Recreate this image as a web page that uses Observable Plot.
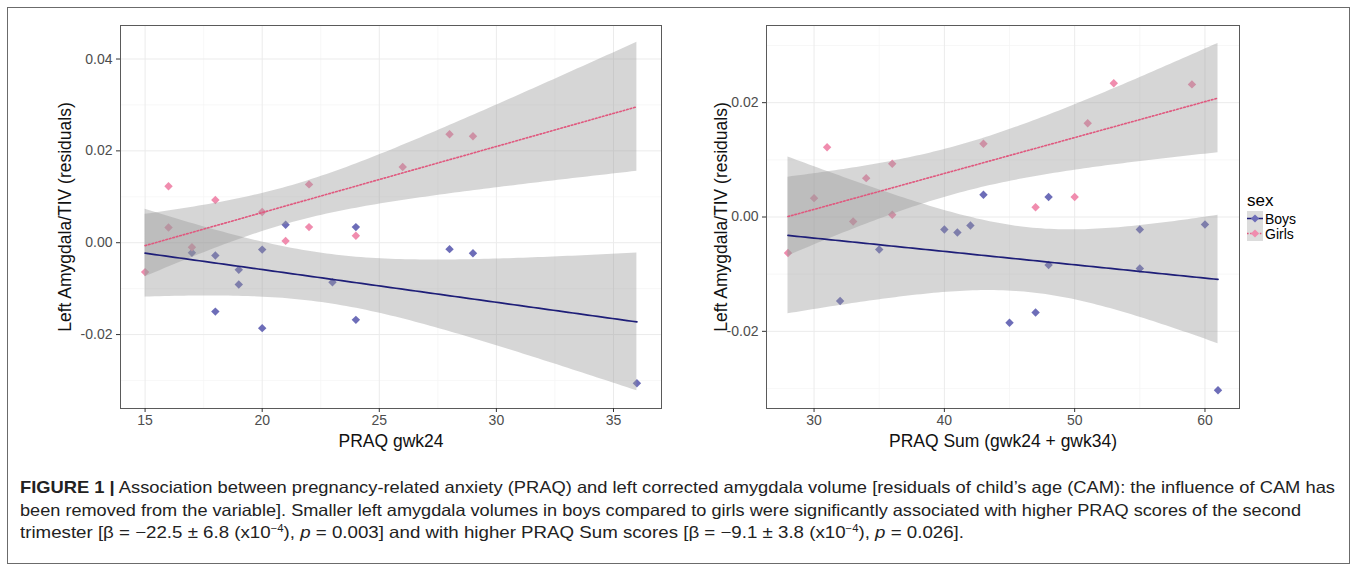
<!DOCTYPE html>
<html><head><meta charset="utf-8">
<script src="https://cdn.jsdelivr.net/npm/d3@7"></script>
<script src="https://cdn.jsdelivr.net/npm/@observablehq/plot@0.6"></script>
<style>
body{margin:0;background:#fff;width:1357px;height:571px;position:relative;overflow:hidden;font-family:"Liberation Sans",Arial,sans-serif;}
#frame{position:absolute;left:7px;top:7px;width:1343px;height:557px;border:1px solid #6b6b6b;box-sizing:border-box;}
#left{position:absolute;left:0;top:0;}
#right{position:absolute;left:680px;top:0;}
#legend{position:absolute;left:1247px;top:191px;font-family:"Liberation Sans",Arial,sans-serif;}
#legend .title{font-size:17px;color:#000;line-height:20px;}
#legend .row{display:flex;align-items:center;height:15px;font-size:14px;color:#000;}
#legend .row svg{margin-right:2px;}
#caption{position:absolute;left:20px;top:476px;font-family:"Liberation Sans",Arial,sans-serif;font-size:16.5px;line-height:22.5px;color:#222;white-space:nowrap;}
#caption .ln{display:block;height:22.5px;transform-origin:0 50%;}
#caption .ln span.in{display:inline-block;}
#caption b{font-weight:bold;}
</style></head><body>
<div id="frame"></div>
<div id="left"></div>
<div id="right"></div>
<div id="legend"></div>
<div id="caption"></div>
<script>
// ---- data ----
const leftGirlsX = [15, 16, 16, 17, 18, 20, 21, 22, 22, 24, 26, 28, 29];
const leftGirlsY = [-0.0064, 0.0123, 0.0033, -0.0010, 0.0093, 0.0067, 0.0004, 0.0127, 0.0034, 0.0015, 0.0165, 0.0236, 0.0232];
const leftBoysX = [17, 18, 18, 19, 19, 20, 20, 21, 23, 24, 24, 28, 29, 36];
const leftBoysY = [-0.0022, -0.0028, -0.0150, -0.0059, -0.0091, -0.0015, -0.0186, 0.0039, -0.0086, 0.0034, -0.0168, -0.0014, -0.0023, -0.0306];

const rightGirlsX = [28, 30, 31, 33, 34, 36, 36, 43, 47, 50, 51, 53, 59];
const rightGirlsY = [-0.0063, 0.0033, 0.0122, -0.0008, 0.0068, 0.0093, 0.0004, 0.0128, 0.0017, 0.0035, 0.0164, 0.0234, 0.0232];
const rightBoysX = [32, 35, 40, 41, 42, 43, 45, 47, 48, 48, 55, 55, 60, 61];
const rightBoysY = [-0.0147, -0.0057, -0.0022, -0.0027, -0.0015, 0.0039, -0.0185, -0.0167, 0.0035, -0.0084, -0.0022, -0.0090, -0.0013, -0.0303];

const leftXTicks = [15, 20, 25, 30, 35];
const leftXMinor = [17.5, 22.5, 27.5, 32.5];
const leftYTicks = [-0.02, 0.00, 0.02, 0.04];
const leftYMinor = [-0.03, -0.01, 0.01, 0.03];
const rightXTicks = [30, 40, 50, 60];
const rightXMinor = [35, 45, 55];
const rightYTicks = [-0.02, 0.00, 0.02];
const rightYMinor = [-0.03, -0.01, 0.01, 0.03];

const sexes = ["Boys", "Girls"];
const pointColors = {Boys: "#6d6db8", Girls: "#f08cae"};
const lineColors = {Boys: "#1e1e78", Girls: "#e0587e"};

const yTitle = "Left Amygdala/TIV (residuals)";
const leftXTitle = "PRAQ gwk24";
const rightXTitle = "PRAQ Sum (gwk24 + gwk34)";

// ---- helpers ----
function tq(df) { // two-sided 95% t quantile (Cornish-Fisher)
  const z = 1.959963985;
  const z3 = z**3, z5 = z**5, z7 = z**7, z9 = z**9;
  const g1 = (z3 + z) / 4;
  const g2 = (5*z5 + 16*z3 + 3*z) / 96;
  const g3 = (3*z7 + 19*z5 + 17*z3 - 15*z) / 384;
  const g4 = (79*z9 + 776*z7 + 1482*z5 - 1920*z3 - 945*z) / 92160;
  return z + g1/df + g2/df**2 + g3/df**3 + g4/df**4;
}
function fit(xs, ys, x0, x1, sex) {
  const n = xs.length, mx = d3.mean(xs), my = d3.mean(ys);
  let sxx = 0, sxy = 0;
  for (let i = 0; i < n; i++) { sxx += (xs[i]-mx)**2; sxy += (xs[i]-mx)*(ys[i]-my); }
  const b = sxy / sxx, a = my - b*mx;
  let sse = 0;
  for (let i = 0; i < n; i++) { const r = ys[i] - (a + b*xs[i]); sse += r*r; }
  const s = Math.sqrt(sse / (n - 2)), t = tq(n - 2);
  return d3.range(101).map(k => {
    const x = x0 + (x1 - x0) * k / 100;
    const yh = a + b*x;
    const se = s * Math.sqrt(1/n + (x - mx)**2 / sxx);
    return {x, y: yh, lo: yh - t*se, hi: yh + t*se, sex};
  });
}

function panel(o) {
  const pts = [
    ...o.boysX.map((x, i) => ({x, y: o.boysY[i], sex: "Boys"})),
    ...o.girlsX.map((x, i) => ({x, y: o.girlsY[i], sex: "Girls"}))
  ];
  const x0 = d3.min(pts, d => d.x), x1 = d3.max(pts, d => d.x);
  const fb = fit(o.boysX, o.boysY, x0, x1, "Boys");
  const fg = fit(o.girlsX, o.girlsY, x0, x1, "Girls");
  const fmt = d => d.toFixed(2);
  return Plot.plot({
    width: o.width, height: o.height,
    marginLeft: o.ml, marginRight: o.mr, marginTop: o.mt, marginBottom: o.mb,
    x: {domain: o.xDomain},
    y: {domain: o.yDomain},
    style: {fontFamily: '"Liberation Sans", Arial, sans-serif', background: "transparent", overflow: "visible"},
    marks: [
      Plot.ruleX(o.xMinor, {stroke: "#f3f3f3", strokeWidth: 0.7}),
      Plot.ruleY(o.yMinor, {stroke: "#f3f3f3", strokeWidth: 0.7}),
      Plot.ruleX(o.xTicks, {stroke: "#ebebeb", strokeWidth: 1}),
      Plot.ruleY(o.yTicks, {stroke: "#ebebeb", strokeWidth: 1}),
      Plot.dot(pts, {x: "x", y: "y", symbol: "diamond2", r: 3.8, fill: d => pointColors[d.sex], stroke: "none"}),
      Plot.areaY(fb, {x: "x", y1: "lo", y2: "hi", fill: "#999999", fillOpacity: 0.4, clip: true}),
      Plot.areaY(fg, {x: "x", y1: "lo", y2: "hi", fill: "#999999", fillOpacity: 0.4, clip: true}),
      Plot.line(fb, {x: "x", y: "y", stroke: lineColors.Boys, strokeWidth: 1.7}),
      Plot.line(fg, {x: "x", y: "y", stroke: lineColors.Girls, strokeWidth: 1.6, strokeDasharray: "1.6,2"}),
      Plot.frame({stroke: "#5a5a5a", strokeWidth: 1}),
      Plot.axisX({ticks: o.xTicks, tickSize: 4, tickPadding: 3, fontSize: 14, fill: "#4d4d4d", stroke: "#333", label: null}),
      Plot.axisY({ticks: o.yTicks, tickSize: 4, tickPadding: 4, fontSize: 14, fill: "#4d4d4d", stroke: "#333", tickFormat: fmt, label: null}),
      Plot.text([o.xTitle], {frameAnchor: "bottom", lineAnchor: "middle", textAnchor: "middle", dy: 33, fontSize: 17.5, fill: "#111"}),
      Plot.text([yTitle], {frameAnchor: "left", lineAnchor: "middle", textAnchor: "middle", dx: o.yTitleDx, rotate: -90, fontSize: 17.5, fill: "#111"})
    ]
  });
}

document.getElementById("left").append(panel({
  girlsX: leftGirlsX, girlsY: leftGirlsY, boysX: leftBoysX, boysY: leftBoysY,
  xDomain: [13.95, 37.05], yDomain: [-0.0361, 0.0473],
  xTicks: leftXTicks, xMinor: leftXMinor, yTicks: leftYTicks, yMinor: leftYMinor,
  xTitle: leftXTitle, width: 680, height: 470, ml: 120, mr: 19, mt: 25, mb: 62, yTitleDx: -55
}));
document.getElementById("right").append(panel({
  girlsX: rightGirlsX, girlsY: rightGirlsY, boysX: rightBoysX, boysY: rightBoysY,
  xDomain: [26.35, 62.65], yDomain: [-0.0335, 0.0335],
  xTicks: rightXTicks, xMinor: rightXMinor, yTicks: rightYTicks, yMinor: rightYMinor,
  xTitle: rightXTitle, width: 677, height: 470, ml: 86, mr: 118, mt: 25, mb: 62, yTitleDx: -45
}));

// legend
const leg = document.getElementById("legend");
leg.innerHTML = '<div class="title">sex</div>' + sexes.map(s => {
  const dash = s === "Girls" ? ' stroke-dasharray="1.6,1.6"' : '';
  return `<div class="row"><svg width="16" height="15"><rect x="0" y="0" width="16" height="15" fill="#dcdcdc"/>` +
    `<line x1="0" x2="16" y1="7.5" y2="7.5" stroke="${lineColors[s]}" stroke-width="1.5"${dash}/>` +
    `<path d="M8,3.4L12.1,7.5L8,11.6L3.9,7.5Z" fill="${pointColors[s]}"/></svg><span>${s}</span></div>`;
}).join("");

// caption
const captionLines = [
  '<b>FIGURE 1 |</b> Association between pregnancy-related anxiety (PRAQ) and left corrected amygdala volume [residuals of child’s age (CAM): the influence of CAM has',
  'been removed from the variable]. Smaller left amygdala volumes in boys compared to girls were significantly associated with higher PRAQ scores of the second',
  'trimester [β = −22.5 ± 6.8 (x10<sup style="font-size:10px;line-height:0">−4</sup>), <i>p</i> = 0.003] and with higher PRAQ Sum scores [β = −9.1 ± 3.8 (x10<sup style="font-size:10px;line-height:0">−4</sup>), <i>p</i> = 0.026].'
];
const captionWidths = [1315, 1281, 944];
const cap = document.getElementById("caption");
captionLines.forEach((html, i) => {
  const ln = document.createElement("div");
  ln.className = "ln";
  const inner = document.createElement("span");
  inner.className = "in";
  inner.innerHTML = html;
  ln.append(inner);
  cap.append(ln);
  const w = inner.getBoundingClientRect().width;
  inner.style.transformOrigin = "0 50%";
  inner.style.transform = `scaleX(${captionWidths[i] / w})`;
});
</script>
</body></html>
